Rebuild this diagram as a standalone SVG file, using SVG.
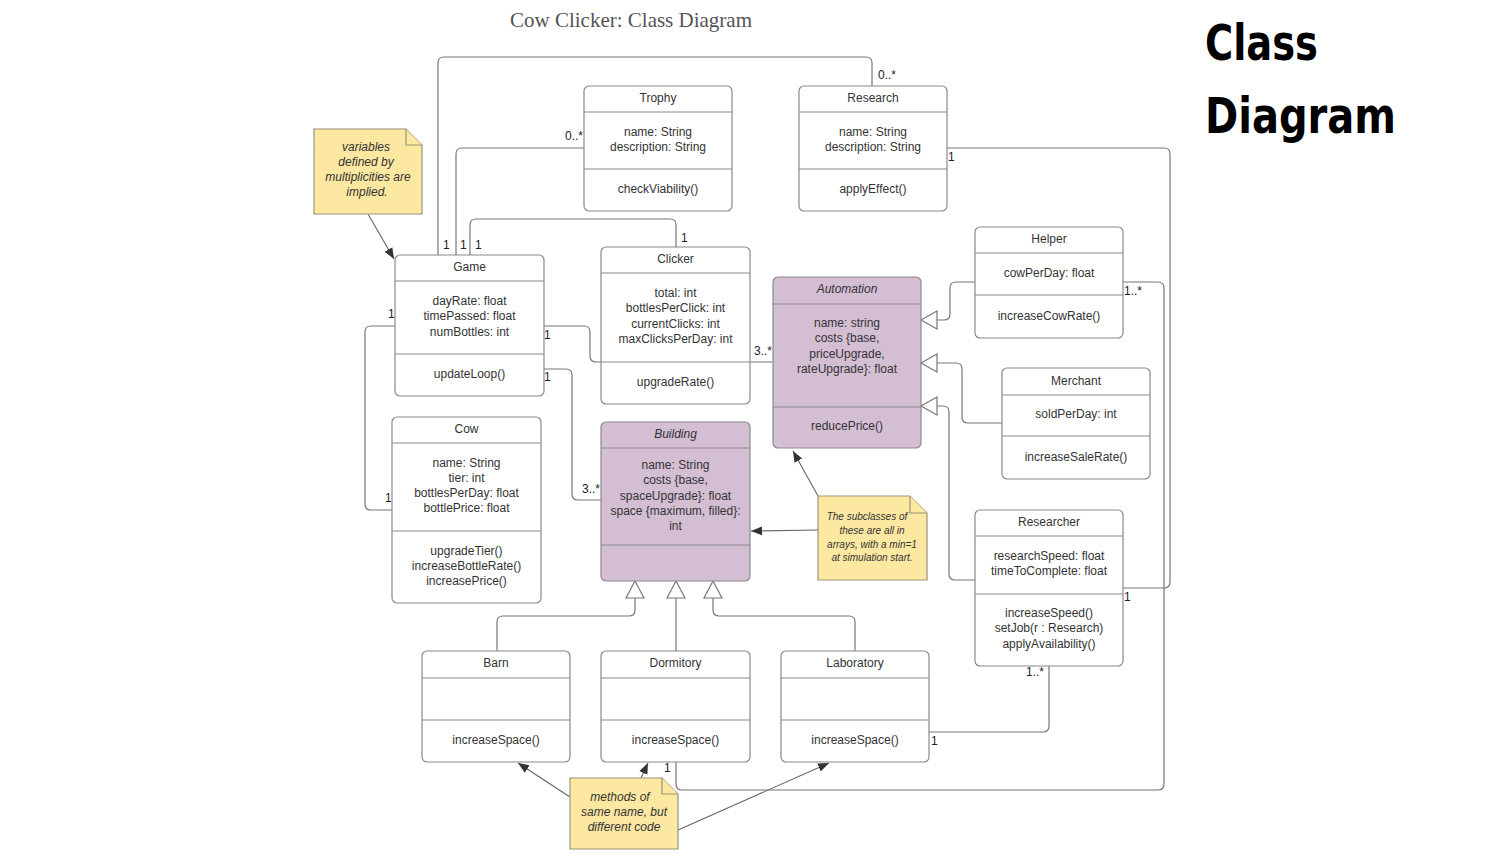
<svg xmlns="http://www.w3.org/2000/svg" width="1488" height="865" viewBox="0 0 1488 865">
<style>
.box{fill:#fff;stroke:#8a8a8a;stroke-width:1.2}
.abs{fill:#d4bed4;stroke:#8a8a8a;stroke-width:1.2}
.dv{stroke:#8a8a8a;stroke-width:1.2}
.t{font-family:"Liberation Sans",Arial,sans-serif;font-size:12px;fill:#333;text-anchor:middle}
.it{font-style:italic}
.lbl{font-family:"Liberation Sans",Arial,sans-serif;font-size:12px;fill:#222}
.note{fill:#fde8a2;stroke:#9a9478;stroke-width:1.2}
.nt{font-family:"Liberation Sans",Arial,sans-serif;font-size:12px;font-style:italic;fill:#333;text-anchor:middle}
.nts{font-size:10px}
.conn{fill:none;stroke:#777;stroke-width:1.2}
.tri{fill:#fff;stroke:#777;stroke-width:1.2}
.na{fill:none;stroke:#666;stroke-width:1.1;marker-end:url(#arr)}
</style>
<defs>
<marker id="arr" viewBox="0 0 10 10" refX="10" refY="5" markerWidth="11" markerHeight="11" markerUnits="userSpaceOnUse" orient="auto">
<path d="M0,1 L10,5 L0,9 Z" fill="#333"/>
</marker>
</defs>
<rect width="1488" height="865" fill="#fff"/>
<text x="631" y="27" font-family="'Liberation Serif','Times New Roman',serif" font-size="21" fill="#555" text-anchor="middle">Cow Clicker: Class Diagram</text>
<text x="1205" y="60" font-family="'DejaVu Sans Condensed','DejaVu Sans',sans-serif" font-weight="bold" font-stretch="condensed" font-size="49" fill="#000" textLength="113" lengthAdjust="spacingAndGlyphs">Class</text>
<text x="1205" y="133" font-family="'DejaVu Sans Condensed','DejaVu Sans',sans-serif" font-weight="bold" font-stretch="condensed" font-size="49" fill="#000" textLength="191" lengthAdjust="spacingAndGlyphs">Diagram</text>

<g id="connectors">
<path class="conn" d="M438 255 V63 Q438 57 444 57 H866 Q872 57 872 63 V86"/>
<path class="conn" d="M456 255 V154 Q456 148 462 148 H584"/>
<path class="conn" d="M470 255 V225 Q470 219 476 219 H670 Q676 219 676 225 V247"/>
<path class="conn" d="M395 326 H371 Q365 326 365 332 V504 Q365 510 371 510 H392"/>
<path class="conn" d="M544 326 H584 Q590 326 590 332 V356 Q590 362 596 362 H773"/>
<path class="conn" d="M544 369 H566 Q572 369 572 375 V494 Q572 500 578 500 H601"/>
<path class="conn" d="M975 282 H956 Q950 282 950 288 V314 Q950 320 944 320 H937"/>
<path class="conn" d="M1002 423 H968 Q962 423 962 417 V369 Q962 363 956 363 H937"/>
<path class="conn" d="M975 580 H955 Q949 580 949 574 V412 Q949 406 943 406 H937"/>
<polygon class="tri" points="921,320 937,311 937,329"/>
<polygon class="tri" points="921,363 937,354 937,372"/>
<polygon class="tri" points="921,406 937,397 937,415"/>
<path class="conn" d="M947 148 H1164 Q1170 148 1170 154 V582 Q1170 588 1164 588 H1123"/>
<path class="conn" d="M1123 282 H1158 Q1164 282 1164 288 V784 Q1164 790 1158 790 H682 Q676 790 676 784 V762"/>
<path class="conn" d="M929 732 H1043 Q1049 732 1049 726 V666"/>
<path class="conn" d="M497 651 V622 Q497 616 503 616 H629 Q635 616 635 610 V598"/>
<path class="conn" d="M676 651 V598"/>
<path class="conn" d="M855 651 V622 Q855 616 849 616 H719 Q713 616 713 610 V598"/>
<polygon class="tri" points="635,581 626,598 644,598"/>
<polygon class="tri" points="676,581 667,598 685,598"/>
<polygon class="tri" points="713,581 704,598 722,598"/>
<path class="na" d="M368 214 L394 259"/>
<path class="na" d="M818 530 L751 531"/>
<path class="na" d="M818 496 L793 451"/>
<path class="na" d="M570 797 L518 763"/>
<path class="na" d="M641 778 L648 763"/>
<path class="na" d="M678 830 L829 763"/>
<text class="lbl" x="878" y="79">0..*</text>
<text class="lbl" x="565" y="140">0..*</text>
<text class="lbl" x="681" y="242">1</text>
<text class="lbl" x="443" y="249">1</text>
<text class="lbl" x="460" y="249">1</text>
<text class="lbl" x="475" y="249">1</text>
<text class="lbl" x="948" y="161">1</text>
<text class="lbl" x="1124" y="295">1..*</text>
<text class="lbl" x="1124" y="601">1</text>
<text class="lbl" x="1026" y="676">1..*</text>
<text class="lbl" x="388" y="318">1</text>
<text class="lbl" x="544" y="339">1</text>
<text class="lbl" x="544" y="381">1</text>
<text class="lbl" x="754" y="355">3..*</text>
<text class="lbl" x="385" y="502">1</text>
<text class="lbl" x="582" y="493">3..*</text>
<text class="lbl" x="931" y="745">1</text>
<text class="lbl" x="664" y="772">1</text>
</g>

<g id="trophy">
<rect class="box" x="584" y="86" width="148" height="125" rx="5"/>
<line class="dv" x1="584" y1="112" x2="732" y2="112"/>
<line class="dv" x1="584" y1="169" x2="732" y2="169"/>
<text class="t" x="658" y="102">Trophy</text>
<text class="t" x="658" y="136">name: String</text>
<text class="t" x="658" y="151">description: String</text>
<text class="t" x="658" y="193">checkViability()</text>
</g>

<g id="research">
<rect class="box" x="799" y="86" width="148" height="125" rx="5"/>
<line class="dv" x1="799" y1="112" x2="947" y2="112"/>
<line class="dv" x1="799" y1="169" x2="947" y2="169"/>
<text class="t" x="873" y="102">Research</text>
<text class="t" x="873" y="136">name: String</text>
<text class="t" x="873" y="151">description: String</text>
<text class="t" x="873" y="193">applyEffect()</text>
</g>

<g id="game">
<rect class="box" x="395" y="255" width="149" height="141" rx="5"/>
<line class="dv" x1="395" y1="281" x2="544" y2="281"/>
<line class="dv" x1="395" y1="354" x2="544" y2="354"/>
<text class="t" x="469.5" y="271">Game</text>
<text class="t" x="469.5" y="305">dayRate: float</text>
<text class="t" x="469.5" y="320">timePassed: float</text>
<text class="t" x="469.5" y="336">numBottles: int</text>
<text class="t" x="469.5" y="378">updateLoop()</text>
</g>

<g id="clicker">
<rect class="box" x="601" y="247" width="149" height="157" rx="5"/>
<line class="dv" x1="601" y1="273" x2="750" y2="273"/>
<line class="dv" x1="601" y1="362" x2="750" y2="362"/>
<text class="t" x="675.5" y="263">Clicker</text>
<text class="t" x="675.5" y="297">total: int</text>
<text class="t" x="675.5" y="312">bottlesPerClick: int</text>
<text class="t" x="675.5" y="328">currentClicks: int</text>
<text class="t" x="675.5" y="343">maxClicksPerDay: int</text>
<text class="t" x="675.5" y="386">upgradeRate()</text>
</g>

<g id="automation">
<rect class="abs" x="773" y="277" width="148" height="171" rx="5"/>
<line class="dv" x1="773" y1="304" x2="921" y2="304"/>
<line class="dv" x1="773" y1="407" x2="921" y2="407"/>
<text class="t it" x="847" y="293">Automation</text>
<text class="t" x="847" y="327">name: string</text>
<text class="t" x="847" y="342">costs {base,</text>
<text class="t" x="847" y="358">priceUpgrade,</text>
<text class="t" x="847" y="373">rateUpgrade}: float</text>
<text class="t" x="847" y="430">reducePrice()</text>
</g>

<g id="helper">
<rect class="box" x="975" y="227" width="148" height="111" rx="5"/>
<line class="dv" x1="975" y1="253" x2="1123" y2="253"/>
<line class="dv" x1="975" y1="295" x2="1123" y2="295"/>
<text class="t" x="1049" y="243">Helper</text>
<text class="t" x="1049" y="277">cowPerDay: float</text>
<text class="t" x="1049" y="320">increaseCowRate()</text>
</g>

<g id="merchant">
<rect class="box" x="1002" y="368" width="148" height="111" rx="5"/>
<line class="dv" x1="1002" y1="395" x2="1150" y2="395"/>
<line class="dv" x1="1002" y1="436" x2="1150" y2="436"/>
<text class="t" x="1076" y="385">Merchant</text>
<text class="t" x="1076" y="418">soldPerDay: int</text>
<text class="t" x="1076" y="461">increaseSaleRate()</text>
</g>

<g id="researcher">
<rect class="box" x="975" y="510" width="148" height="156" rx="5"/>
<line class="dv" x1="975" y1="536" x2="1123" y2="536"/>
<line class="dv" x1="975" y1="594" x2="1123" y2="594"/>
<text class="t" x="1049" y="526">Researcher</text>
<text class="t" x="1049" y="560">researchSpeed: float</text>
<text class="t" x="1049" y="575">timeToComplete: float</text>
<text class="t" x="1049" y="617">increaseSpeed()</text>
<text class="t" x="1049" y="632">setJob(r : Research)</text>
<text class="t" x="1049" y="648">applyAvailability()</text>
</g>

<g id="cow">
<rect class="box" x="392" y="417" width="149" height="186" rx="5"/>
<line class="dv" x1="392" y1="443" x2="541" y2="443"/>
<line class="dv" x1="392" y1="531" x2="541" y2="531"/>
<text class="t" x="466.5" y="433">Cow</text>
<text class="t" x="466.5" y="467">name: String</text>
<text class="t" x="466.5" y="482">tier: int</text>
<text class="t" x="466.5" y="497">bottlesPerDay: float</text>
<text class="t" x="466.5" y="512">bottlePrice: float</text>
<text class="t" x="466.5" y="555">upgradeTier()</text>
<text class="t" x="466.5" y="570">increaseBottleRate()</text>
<text class="t" x="466.5" y="585">increasePrice()</text>
</g>

<g id="building">
<rect class="abs" x="601" y="422" width="149" height="159" rx="5"/>
<line class="dv" x1="601" y1="448" x2="750" y2="448"/>
<line class="dv" x1="601" y1="545" x2="750" y2="545"/>
<text class="t it" x="675.5" y="438">Building</text>
<text class="t" x="675.5" y="469">name: String</text>
<text class="t" x="675.5" y="484">costs {base,</text>
<text class="t" x="675.5" y="500">spaceUpgrade}: float</text>
<text class="t" x="675.5" y="515">space {maximum, filled}:</text>
<text class="t" x="675.5" y="530">int</text>
</g>

<g id="barn">
<rect class="box" x="422" y="651" width="148" height="111" rx="5"/>
<line class="dv" x1="422" y1="678" x2="570" y2="678"/>
<line class="dv" x1="422" y1="720" x2="570" y2="720"/>
<text class="t" x="496" y="667">Barn</text>
<text class="t" x="496" y="744">increaseSpace()</text>
</g>

<g id="dormitory">
<rect class="box" x="601" y="651" width="149" height="111" rx="5"/>
<line class="dv" x1="601" y1="678" x2="750" y2="678"/>
<line class="dv" x1="601" y1="720" x2="750" y2="720"/>
<text class="t" x="675.5" y="667">Dormitory</text>
<text class="t" x="675.5" y="744">increaseSpace()</text>
</g>

<g id="laboratory">
<rect class="box" x="781" y="651" width="148" height="111" rx="5"/>
<line class="dv" x1="781" y1="678" x2="929" y2="678"/>
<line class="dv" x1="781" y1="720" x2="929" y2="720"/>
<text class="t" x="855" y="667">Laboratory</text>
<text class="t" x="855" y="744">increaseSpace()</text>
</g>

<g id="note-multiplicities">
<path class="note" d="M314 129 H406 L422 145 V214 H314 Z"/>
<path class="note" d="M406 129 V145 H422"/>
<text class="nt" x="366" y="151">variables</text>
<text class="nt" x="366" y="166">defined by</text>
<text class="nt" x="368" y="181">multiplicities are</text>
<text class="nt" x="367" y="196">implied.</text>
</g>

<g id="note-subclasses">
<path class="note" d="M818 496 H910 L927 513 V580 H818 Z"/>
<path class="note" d="M910 496 V513 H927"/>
<text class="nt nts" x="867" y="520">The subclasses of</text>
<text class="nt nts" x="872" y="534">these are all in</text>
<text class="nt nts" x="872" y="548">arrays, with a min=1</text>
<text class="nt nts" x="872" y="561">at simulation start.</text>
</g>

<g id="note-methods">
<path class="note" d="M570 778 H662 L678 794 V849 H570 Z"/>
<path class="note" d="M662 778 V794 H678"/>
<text class="nt" x="620" y="801">methods of</text>
<text class="nt" x="624" y="816">same name, but</text>
<text class="nt" x="624" y="831">different code</text>
</g>
</svg>
